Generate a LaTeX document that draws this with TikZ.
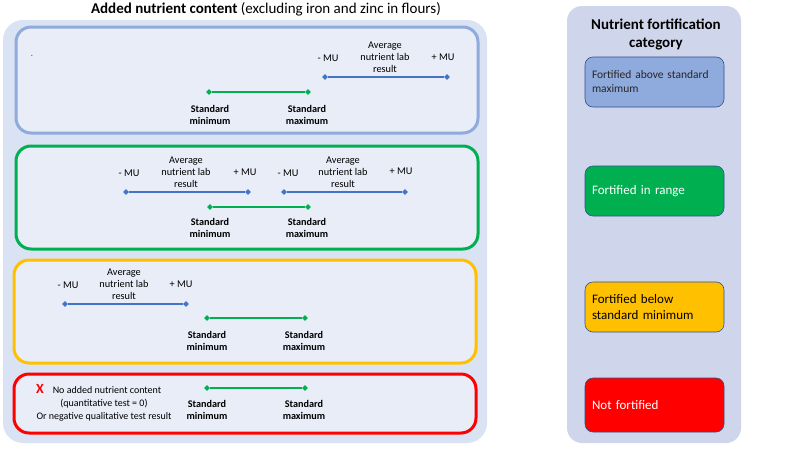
\documentclass[tikz,border=0pt]{standalone}
\usepackage{fontspec}
\setmainfont{Carlito}
\usetikzlibrary{shapes.geometric}
\definecolor{bgleft}{RGB}{218,227,243}
\definecolor{panelfill}{RGB}{233,237,247}
\definecolor{bgright}{RGB}{207,213,234}
\definecolor{pblue}{RGB}{143,170,220}
\definecolor{pgreen}{RGB}{0,176,80}
\definecolor{porange}{RGB}{255,192,0}
\definecolor{pred}{RGB}{255,0,0}
\definecolor{lineblue}{RGB}{68,114,196}
\definecolor{boxedge}{RGB}{47,82,143}
\tikzset{
  panel/.style={line width=3pt, rounded corners=15pt, fill=panelfill},
  tip/.style={diamond, inner sep=0pt, minimum width=6pt, minimum height=6pt, fill=#1},
  bluerange/.style={draw=lineblue, line width=1.4pt},
  greenrange/.style={draw=pgreen, line width=2.4pt},
  small/.style={font=\fontsize{10.3}{12}\selectfont, align=center, inner sep=0pt},
  stdlab/.style={font=\bfseries\fontsize{10.2}{12.5}\selectfont, align=center, inner sep=0pt},
  catbox/.style={draw=boxedge, line width=0.6pt, rounded corners=8pt, minimum width=139pt, minimum height=50pt, text width=125pt, align=left, inner sep=0pt},
}
\begin{document}
\begin{tikzpicture}[x=1pt,y=-1pt]
\useasboundingbox (0,0) rectangle (800,450);
% left background
\fill[bgleft, rounded corners=20pt] (3,20) rectangle (487,443);
\node[inner sep=0pt, font=\fontsize{15}{17}\selectfont] (ltitle) at (266,9) {\textbf{Added nutrient content} (excluding iron and zinc in flours)};
% panels
\draw[panel, draw=pblue] (16,27) rectangle (478,133);
\draw[panel, draw=pgreen] (16,146) rectangle (478,249);
\draw[panel, draw=porange] (14,260) rectangle (476,363);
\draw[panel, draw=pred] (14,374) rectangle (476,433);

% Panel 1
\node[small, text=black!60] (dot1) at (32,56) {.};
\node[tip=lineblue] (a1) at (325,77) {};
\node[tip=lineblue] (b1) at (447,77) {};
\draw[bluerange] (a1) -- (b1);
\node[small] (m1) at (328,58) {- MU};
\node[small] (avg1) at (385,57) {Average\\nutrient lab\\result};
\node[small] (p1) at (443,57) {+ MU};
\node[tip=pgreen] (g1a) at (209,92) {};
\node[tip=pgreen] (g1b) at (308,92) {};
\draw[greenrange] (g1a) -- (g1b);
\node[stdlab] (smin1) at (210,115) {Standard\\minimum};
\node[stdlab] (smax1) at (307,115) {Standard\\maximum};

% Panel 2
\node[tip=lineblue] (a2) at (126,192) {};
\node[tip=lineblue] (b2) at (248,192) {};
\draw[bluerange] (a2) -- (b2);
\node[small] (m2) at (129,173) {- MU};
\node[small] (avg2) at (186,172) {Average\\nutrient lab\\result};
\node[small] (p2) at (245,172) {+ MU};
\node[tip=lineblue] (a3) at (284,192) {};
\node[tip=lineblue] (b3) at (405,192) {};
\draw[bluerange] (a3) -- (b3);
\node[small] (m3) at (288,173) {- MU};
\node[small] (avg3) at (343,172) {Average\\nutrient lab\\result};
\node[small] (p3) at (401,171) {+ MU};
\node[tip=pgreen] (g2a) at (210,207) {};
\node[tip=pgreen] (g2b) at (308,207) {};
\draw[greenrange] (g2a) -- (g2b);
\node[stdlab] (smin2) at (210,228) {Standard\\minimum};
\node[stdlab] (smax2) at (307,228) {Standard\\maximum};

% Panel 3
\node[tip=lineblue] (a4) at (65,304) {};
\node[tip=lineblue] (b4) at (186,304) {};
\draw[bluerange] (a4) -- (b4);
\node[small] (m4) at (68,285) {- MU};
\node[small] (avg4) at (124,284) {Average\\nutrient lab\\result};
\node[small] (p4) at (181,284) {+ MU};
\node[tip=pgreen] (g3a) at (207,318) {};
\node[tip=pgreen] (g3b) at (305,318) {};
\draw[greenrange] (g3a) -- (g3b);
\node[stdlab] (smin3) at (207,341) {Standard\\minimum};
\node[stdlab] (smax3) at (304,341) {Standard\\maximum};

% Panel 4
\node[inner sep=0pt, text=pred, font=\bfseries\fontsize{14}{15}\selectfont] (x) at (40,389) {X};
\node[small, font=\fontsize{10}{13}\selectfont] (none) at (104,404) {\hspace*{6pt}No added nutrient content\\(quantitative test = 0)\\Or negative qualitative test result};
\node[tip=pgreen] (g4a) at (207,388) {};
\node[tip=pgreen] (g4b) at (305,388) {};
\draw[greenrange] (g4a) -- (g4b);
\node[stdlab] (smin4) at (207,410) {Standard\\minimum};
\node[stdlab] (smax4) at (304,410) {Standard\\maximum};

% right panel
\fill[bgright, rounded corners=15pt] (567,6) rectangle (741,443);
\node[inner sep=0pt, align=center, font=\bfseries\fontsize{15}{18}\selectfont] (rtitle) at (656,34) {Nutrient fortification\\category};
\node[catbox, fill=pblue, text=black!85, font=\fontsize{11.5}{14}\selectfont] (c1) at (654.5,82) {Fortified above standard\\maximum};
\node[catbox, fill=pgreen, text=white, font=\fontsize{13}{16}\selectfont] (c2) at (654.5,191) {Fortified in range};
\node[catbox, fill=porange, text=black, font=\fontsize{13}{16}\selectfont] (c3) at (654.5,307) {Fortified below\\standard minimum};
\node[catbox, fill=pred, text=white, font=\fontsize{13}{16}\selectfont, minimum height=54pt] (c4) at (654.5,405) {Not fortified};
\end{tikzpicture}
\end{document}
